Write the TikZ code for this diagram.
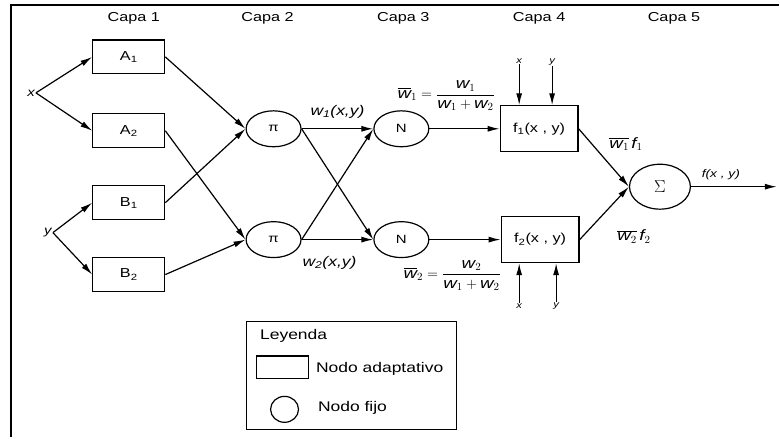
\documentclass[tikz,border=0pt]{standalone}
\usepackage{amsmath}
\usepackage{fontspec}
\setmainfont{Liberation Sans}[FakeStretch=1.25]
\usetikzlibrary{arrows.meta, positioning, shapes.geometric}

\begin{document}
\begin{tikzpicture}[
    x=1pt, y=-1pt,
    adbox/.style={draw, line width=1.2pt, minimum width=72pt, minimum height=34pt,
                  font=\fontsize{13}{15}\selectfont},
    fxbox/.style={adbox, minimum width=78pt, minimum height=46pt},
    fixnode/.style={draw, ellipse, line width=1.2pt, minimum width=55pt,
                    minimum height=36pt, inner sep=0pt, font=\fontsize{12}{14}\selectfont},
    caplabel/.style={font=\fontsize{13}{15}\selectfont},
    inlabel/.style={font=\fontsize{12}{14}\selectfont\itshape, inner sep=1pt},
    smlabel/.style={font=\fontsize{9}{11}\selectfont\itshape, inner sep=1pt},
    wlabel/.style={font=\fontsize{14}{16}\selectfont\itshape},
    mlabel/.style={font=\fontsize{15}{17}\selectfont, inner sep=1pt},
    conn/.style={-{Latex[length=12pt, width=6pt]}, line width=1.2pt}
  ]
    % frame
    \draw[line width=2.5pt] (780,5) -- (11,5) -- (11,438);

    % layer titles
    \node[caplabel] (c1) at (134,18) {Capa 1};
    \node[caplabel] (c2) at (268,18) {Capa 2};
    \node[caplabel] (c3) at (404,18) {Capa 3};
    \node[caplabel] (c4) at (540,18) {Capa 4};
    \node[caplabel] (c5) at (675,18) {Capa 5};

    % inputs
    \node[inlabel, anchor=east] (xin) at (36,93)  {x};
    \node[inlabel, anchor=east] (yin) at (53,233) {y};

    % layer 1
    \node[adbox] (a1) at (129,57)  {A\textsubscript{1}};
    \node[adbox] (a2) at (129,131) {A\textsubscript{2}};
    \node[adbox] (b1) at (129,203) {B\textsubscript{1}};
    \node[adbox] (b2) at (129,275) {B\textsubscript{2}};

    % layers 2 and 3
    \node[fixnode] (p1) at (274,129) {π};
    \node[fixnode] (p2) at (274,240) {π};
    \node[fixnode] (n1) at (402,129) {N};
    \node[fixnode] (n2) at (402,240) {N};

    % layer 4
    \node[fxbox] (f1) at (540,129) {f\textsubscript{1}(x , y)};
    \node[fxbox] (f2) at (541,240) {f\textsubscript{2}(x , y)};

    % layer 5
    \node[fixnode, minimum width=61pt, minimum height=45pt,
          font=\fontsize{17}{19}\selectfont] (s) at (661,187) {$\Sigma$};
    \coordinate (out) at (778,187);

    \draw[conn] (xin.east) -- (a1.west);
    \draw[conn] (xin.east) -- (a2.west);
    \draw[conn] (yin.east) -- (b1.west);
    \draw[conn] (yin.east) -- (b2.west);

    \draw[conn] (a1.east) -- (p1.west);
    \draw[conn] (b1.east) -- (p1.west);
    \draw[conn] (a2.east) -- (p2.west);
    \draw[conn] (b2.east) -- (p2.west);

    \draw[conn] (p1.east) -- (n1.west);
    \draw[conn] (p1.east) -- (n2.west);
    \draw[conn] (p2.east) -- (n1.west);
    \draw[conn] (p2.east) -- (n2.west);

    \draw[conn] (n1.east) -- (f1.west);
    \draw[conn] (n2.east) -- (f2.west);
    \draw[conn] (f1.east) -- (s.west);
    \draw[conn] (f2.east) -- (s.west);
    \draw[conn] (s.east) -- (out);

    % consequent inputs
    \node[smlabel] (fx1) at (520,61)  {x};
    \node[smlabel] (fy1) at (553,62)  {y};
    \node[smlabel] (fx2) at (520,307) {x};
    \node[smlabel] (fy2) at (557,307) {y};
    \draw[conn] (fx1.south) -- (f1.north -| fx1);
    \draw[conn] (fy1.south) -- (f1.north -| fy1);
    \draw[conn] (fx2.north) -- (f2.south -| fx2);
    \draw[conn] (fy2.north) -- (f2.south -| fy2);

    % signal labels
    \node[wlabel] (w1) at (338,112) {w\textsubscript{1}(x,y)};
    \node[wlabel] (w2) at (330,263) {w\textsubscript{2}(x,y)};
    \node[mlabel] (nw1) at (447,96)
      {$\overline{\textit{w}}_1 = \dfrac{\textit{w}_1}{\textit{w}_1 + \textit{w}_2}$};
    \node[mlabel] (nw2) at (453,276)
      {$\overline{\textit{w}}_2 = \dfrac{\textit{w}_2}{\textit{w}_1 + \textit{w}_2}$};
    \node[wlabel, font=\fontsize{15}{17}\selectfont\itshape] (o1) at (627,144)
      {$\overline{\textit{w}_1}\,\textit{f}_1$};
    \node[wlabel, font=\fontsize{15}{17}\selectfont\itshape] (o2) at (635,237)
      {$\overline{\textit{w}_2}\,\textit{f}_2$};
    \node[smlabel, font=\fontsize{11}{13}\selectfont\itshape] (fo) at (722,175) {f(x , y)};

    % legend
    \node[draw, line width=1.2pt, minimum width=210pt, minimum height=108pt] (leg) at (352,376) {};
    \node[caplabel, font=\fontsize{14}{16}\selectfont, anchor=west] (legt) at (257,336) {Leyenda};
    \node[draw, line width=1.2pt, minimum width=52pt, minimum height=23pt] (legb) at (283,368) {};
    \node[caplabel, font=\fontsize{14}{16}\selectfont, anchor=west] (legbt) at (313,369) {Nodo adaptativo};
    \node[draw, ellipse, line width=1.2pt, minimum width=28pt, minimum height=26pt] (legc) at (285,410) {};
    \node[caplabel, font=\fontsize{14}{16}\selectfont, anchor=west] (legct) at (315,409) {Nodo fijo};

    \useasboundingbox (0,0) rectangle (780,438);
  \end{tikzpicture}
\end{document}
